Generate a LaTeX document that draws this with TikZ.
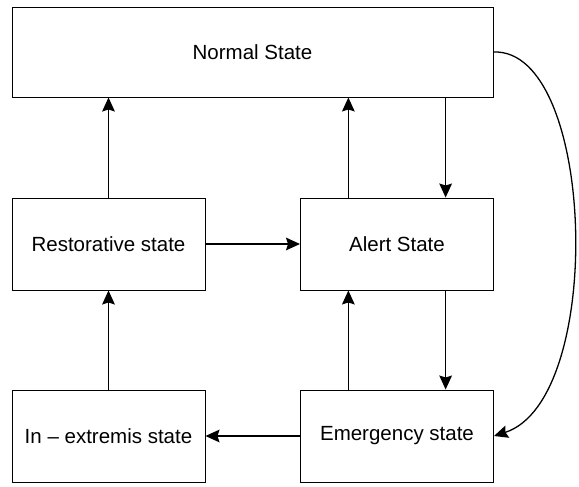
\documentclass[tikz,border=0pt]{standalone}
\usepackage{fontspec}
\setmainfont{Liberation Sans}
\usetikzlibrary{arrows.meta}

\begin{document}
\begin{tikzpicture}[x=0.03cm,y=-0.03cm,
  state/.style={draw,rectangle,line width=0.8pt,minimum width=5.79cm,minimum height=2.76cm,font=\fontsize{17.5}{20}\selectfont},
  flow/.style={-{Stealth[length=0.42cm,width=0.38cm,inset=0.06cm]},line width=1.1pt}]
\useasboundingbox (0,0) rectangle (579,487);
\node[state,minimum width=14.43cm,minimum height=2.7cm] (normal) at (252.5,52) {Normal State};
\node[state] (restorative) at (108.5,244) {Restorative state};
\node[state] (alert) at (397,244) {Alert State};
\node[state] (extremis) at (108.5,436) {In -- extremis state};
\node[state] (emergency) at (397,436) {Emergency state};
% vertical links
\draw[flow] (restorative.north) -- (restorative.north |- normal.south);
\draw[flow] ([xshift=1.45cm]alert.north west) -- ([xshift=1.45cm]alert.north west |- normal.south);
\draw[flow] ([xshift=-1.45cm]alert.north east |- normal.south) -- ([xshift=-1.45cm]alert.north east);
\draw[flow] (extremis.north) -- (restorative.south);
\draw[flow] ([xshift=1.45cm]emergency.north west) -- ([xshift=1.45cm]emergency.north west |- alert.south);
\draw[flow] ([xshift=-1.45cm]alert.south east) -- ([xshift=-1.45cm]alert.south east |- emergency.north);
% horizontal links
\draw[flow] (restorative) -- (alert);
\draw[flow] (emergency) -- (extremis);
\draw[flow] (normal.east) .. controls (596,48) and (606,400) .. (emergency.east);
\end{tikzpicture}
\end{document}
